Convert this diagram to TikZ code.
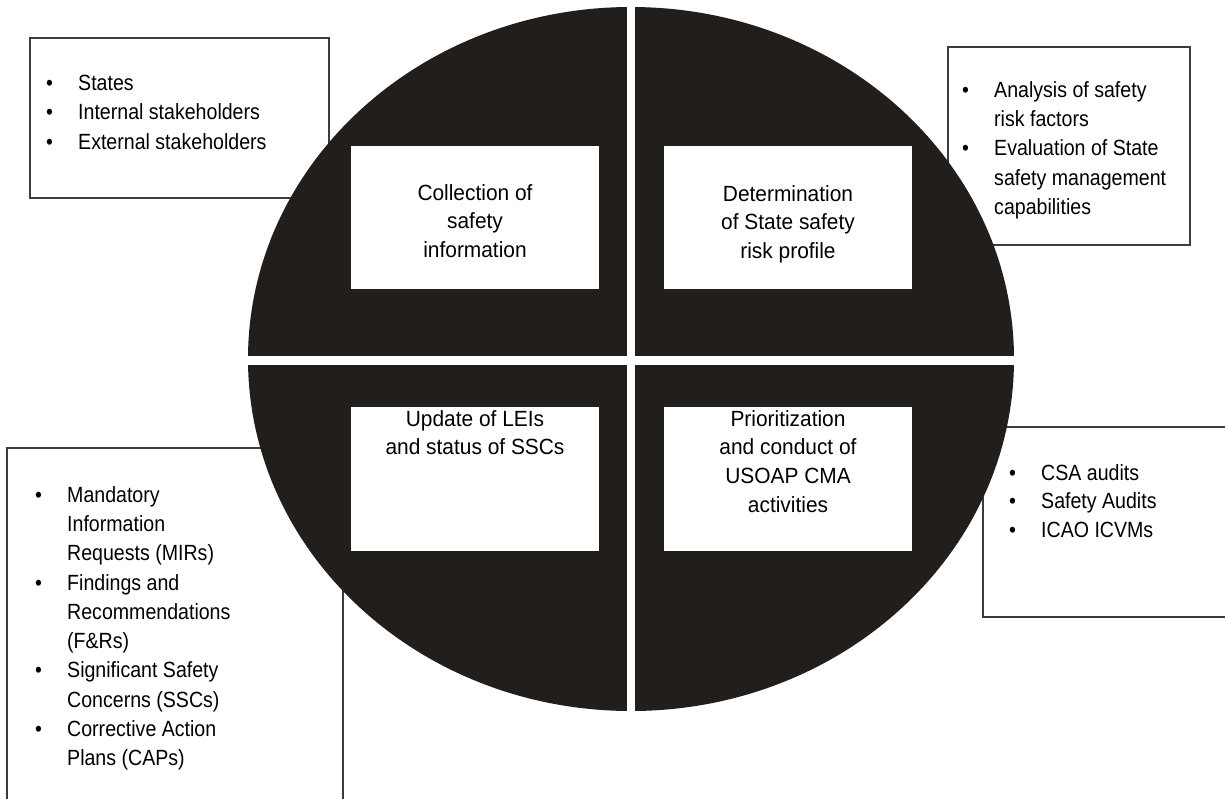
\documentclass[tikz,border=0pt]{standalone}
\usepackage{fontspec}
\setmainfont{Liberation Sans}
\newfontfamily\outerf{Liberation Sans}[FakeStretch=0.89]
\newfontfamily\innerf{Liberation Sans}[FakeStretch=0.95]
\definecolor{disk}{HTML}{221E1B}
\definecolor{frame}{HTML}{3C3C3C}
\newcommand{\bl}{\makebox[33pt][l]{\hspace{1pt}\textbullet}}
\newcommand{\cl}{\hspace*{33pt}}
\begin{document}
\begin{tikzpicture}[x=1pt,y=-1pt,
  listbox/.style={draw=frame, line width=1.2pt, fill=white},
  listtext/.style={font=\outerf\fontsize{22}{29.3}\selectfont, align=left, inner sep=0pt, anchor=north west},
  steptext/.style={font=\innerf\fontsize{22}{28.8}\selectfont, align=center, inner sep=0pt, anchor=north},
  stepbox/.style={fill=white}]
\useasboundingbox (0,0) rectangle (1225,798);
\clip (0,0) rectangle (1225,798);
% outer list boxes
\draw[listbox] (30,38) rectangle (329,198);
\draw[listbox] (948,47) rectangle (1190,245);
\draw[listbox] (7,448) rectangle (343,820);
\draw[listbox] (983,427) rectangle (1240,617);
% disk
\fill[disk] (631,359) ellipse [x radius=383pt, y radius=352pt];
\fill[white] (626.5,-5) rectangle (635,730);
\fill[white] (235,356) rectangle (1030,364.5);
% inner white boxes
\fill[stepbox] (351,146) rectangle (599,289);
\fill[stepbox] (664,146) rectangle (912,289);
\fill[stepbox] (351,407) rectangle (599,551);
\fill[stepbox] (664,407) rectangle (912,551);
% step texts
\node[steptext] (s1) at (475,184) {Collection of\\safety\\information};
\node[steptext] (s2) at (788,185) {Determination\\of State safety\\risk profile};
\node[steptext] (s3) at (475,410) {Update of LEIs\\and status of SSCs};
\node[steptext] (s4) at (788,410) {Prioritization\\and conduct of\\USOAP CMA\\activities};
% list texts
\node[listtext] (l1) at (45,75) {\bl States\\\bl Internal stakeholders\\\bl External stakeholders};
\node[listtext] (l2) at (961,81) {\bl Analysis of safety\\\cl risk factors\\\bl Evaluation of State\\\cl safety management\\\cl capabilities};
\node[listtext] (l3) at (34,486) {\bl Mandatory\\\cl Information\\\cl Requests (MIRs)\\\bl Findings and\\\cl Recommendations\\\cl (F\&Rs)\\\bl Significant Safety\\\cl Concerns (SSCs)\\\bl Corrective Action\\\cl Plans (CAPs)};
\node[listtext, font=\outerf\fontsize{22}{28.6}\selectfont] (l4) at (1008,464) {\bl CSA audits\\\bl Safety Audits\\\bl ICAO ICVMs};
\end{tikzpicture}
\end{document}
